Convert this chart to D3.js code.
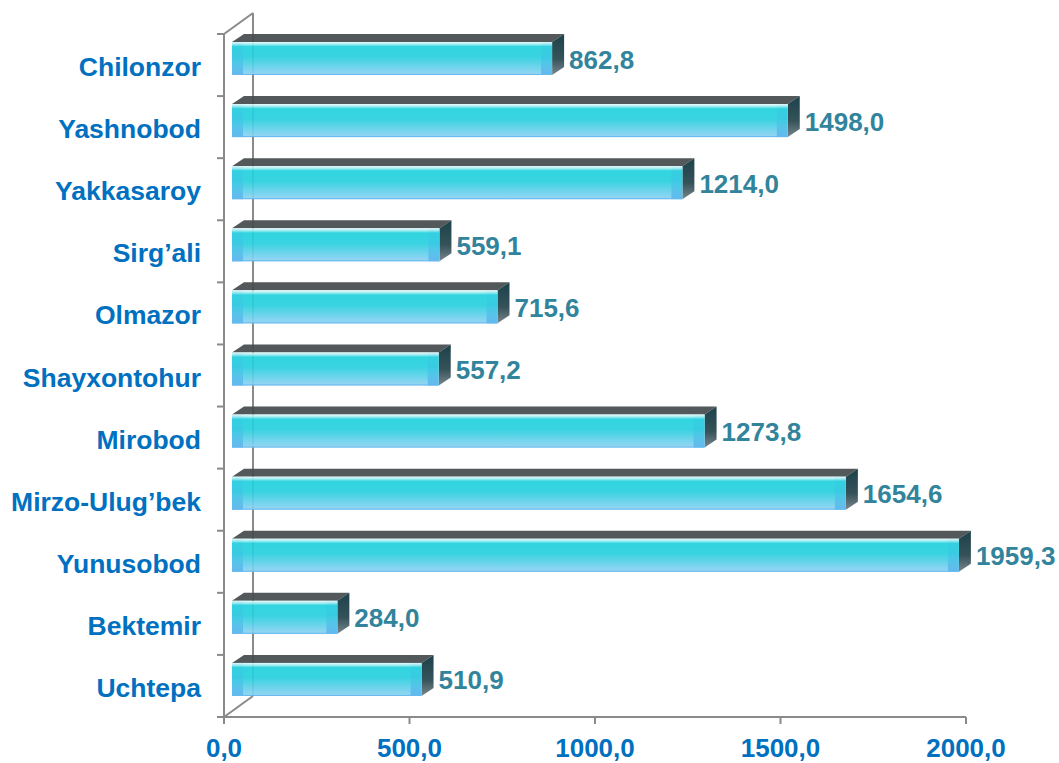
<!DOCTYPE html>
<html>
<head>
<meta charset="utf-8">
<title>Tumanlar</title>
<script src="https://d3js.org/d3.v7.min.js"></script>
<style>
body { margin: 0; background: #fff; }
text { font-family: Arial, "Liberation Sans", sans-serif; font-weight: bold; }
</style>
</head>
<body>
<div id="chart"></div>
<script>
// data
var districts = ["Chilonzor", "Yashnobod", "Yakkasaroy", "Sirg\u2019ali", "Olmazor", "Shayxontohur",
                 "Mirobod", "Mirzo-Ulug\u2019bek", "Yunusobod", "Bektemir", "Uchtepa"];
var values = [862.8, 1498.0, 1214.0, 559.1, 715.6, 557.2, 1273.8, 1654.6, 1959.3, 284.0, 510.9];
var xTicks = [0, 500, 1000, 1500, 2000];

var W = 1059, H = 763;
var svg = d3.select("#chart").append("svg")
  .attr("width", W).attr("height", H);

var x = d3.scaleLinear().domain([0, 2000]).range([224, 966]);
var y = d3.scaleBand().domain(districts).range([34, 717]);

// 3d depth of the plot and of the bars
var depthX = 29, depthY = 21;
var barShift = 8, barDX = 12, barDY = 8, faceTop = 8, faceH = 33;

var fmt = function(v) { return v.toFixed(1).replace(".", ","); };

var defs = svg.append("defs");
var g1 = defs.append("linearGradient").attr("id", "front")
  .attr("x1", 0).attr("y1", 0).attr("x2", 0).attr("y2", 1);
g1.append("stop").attr("offset", "0%").attr("stop-color", "#e4fbfc");
g1.append("stop").attr("offset", "7%").attr("stop-color", "#9eecf1");
g1.append("stop").attr("offset", "14%").attr("stop-color", "#22d2de");
g1.append("stop").attr("offset", "45%").attr("stop-color", "#2ad0df");
g1.append("stop").attr("offset", "100%").attr("stop-color", "#92d2f4");

var g2 = defs.append("linearGradient").attr("id", "strip")
  .attr("x1", 0).attr("y1", 0).attr("x2", 0).attr("y2", 1);
g2.append("stop").attr("offset", "0%").attr("stop-color", "#2fa9e6").attr("stop-opacity", 0.05);
g2.append("stop").attr("offset", "50%").attr("stop-color", "#2fa9e6").attr("stop-opacity", 0.25);
g2.append("stop").attr("offset", "100%").attr("stop-color", "#2f9fe8").attr("stop-opacity", 0.6);

var g3 = defs.append("linearGradient").attr("id", "side")
  .attr("x1", 0).attr("y1", 0).attr("x2", 0).attr("y2", 1);
g3.append("stop").attr("offset", "0%").attr("stop-color", "#0c353d");
g3.append("stop").attr("offset", "60%").attr("stop-color", "#26454d");
g3.append("stop").attr("offset", "100%").attr("stop-color", "#6f7e84");

// axes frame
var axisCol = "#8a8a8a";
var frame = svg.append("g").attr("stroke", axisCol).attr("stroke-width", 2).attr("fill", "none");
// back wall
frame.append("line").attr("x1", 224 + depthX).attr("y1", 34 - depthY)
  .attr("x2", 224 + depthX).attr("y2", 717 - depthY);
frame.append("line").attr("x1", 224).attr("y1", 34).attr("x2", 224 + depthX).attr("y2", 34 - depthY);
frame.append("line").attr("x1", 224).attr("y1", 717).attr("x2", 224 + depthX).attr("y2", 717 - depthY);
// front left axis
frame.append("line").attr("x1", 224).attr("y1", 34).attr("x2", 224).attr("y2", 717);
var bounds = districts.map(function(d) { return y(d); }).concat([717]);
frame.selectAll(".yt").data(bounds).enter().append("line")
  .attr("x1", 217).attr("x2", 224).attr("y1", function(d) { return d; }).attr("y2", function(d) { return d; });
// bottom axis
frame.append("line").attr("x1", 224).attr("y1", 717).attr("x2", 966).attr("y2", 717);
frame.selectAll(".xt").data(xTicks).enter().append("line")
  .attr("x1", function(d) { return x(d); }).attr("x2", function(d) { return x(d); })
  .attr("y1", 717).attr("y2", 724);

svg.append("g").selectAll("text").data(xTicks).enter().append("text")
  .attr("x", function(d) { return x(d); }).attr("y", 757)
  .attr("text-anchor", "middle").attr("font-size", 26).attr("fill", "#0070c0")
  .text(fmt);

// bars
var bars = svg.append("g").selectAll("g").data(districts).enter().append("g")
  .attr("opacity", 0.93);

bars.each(function(d, i) {
  var g = d3.select(this);
  var x0 = x(0) + barShift, x1 = x(values[i]) + barShift;
  var t = y(d) + faceTop, b = t + faceH;
  g.append("path")
    .attr("d", "M" + x0 + "," + t + "L" + (x0 + barDX) + "," + (t - barDY) +
      "L" + (x1 + barDX) + "," + (t - barDY) + "L" + x1 + "," + t + "Z")
    .attr("fill", "#474c4e");
  g.append("path")
    .attr("d", "M" + x1 + "," + t + "L" + (x1 + barDX) + "," + (t - barDY) +
      "L" + (x1 + barDX) + "," + (b - barDY) + "L" + x1 + "," + b + "Z")
    .attr("fill", "url(#side)");
  g.append("rect").attr("x", x0).attr("y", t).attr("width", x1 - x0).attr("height", faceH)
    .attr("fill", "url(#front)");
  g.append("rect").attr("x", x0).attr("y", t).attr("width", 11).attr("height", faceH)
    .attr("fill", "url(#strip)");
  g.append("rect").attr("x", x1 - 11).attr("y", t).attr("width", 11).attr("height", faceH)
    .attr("fill", "url(#strip)");
  g.append("line").attr("x1", x0).attr("x2", x1).attr("y1", b - 0.5).attr("y2", b - 0.5)
    .attr("stroke", "#5ab4ee").attr("stroke-width", 1);
});

// value labels
svg.append("g").selectAll("text").data(districts).enter().append("text")
  .attr("x", function(d, i) { return x(values[i]) + barShift + barDX + 5; })
  .attr("y", function(d) { return y(d) + faceTop + faceH / 2 + 10; })
  .attr("font-size", 26).attr("fill", "#31849b")
  .text(function(d, i) { return fmt(values[i]); });

// category labels
svg.append("g").selectAll("text").data(districts).enter().append("text")
  .attr("x", 201)
  .attr("y", function(d) { return y(d) + y.bandwidth() / 2 + 11; })
  .attr("text-anchor", "end").attr("font-size", 26.5).attr("fill", "#0070c0")
  .text(function(d) { return d; });
</script>
</body>
</html>
